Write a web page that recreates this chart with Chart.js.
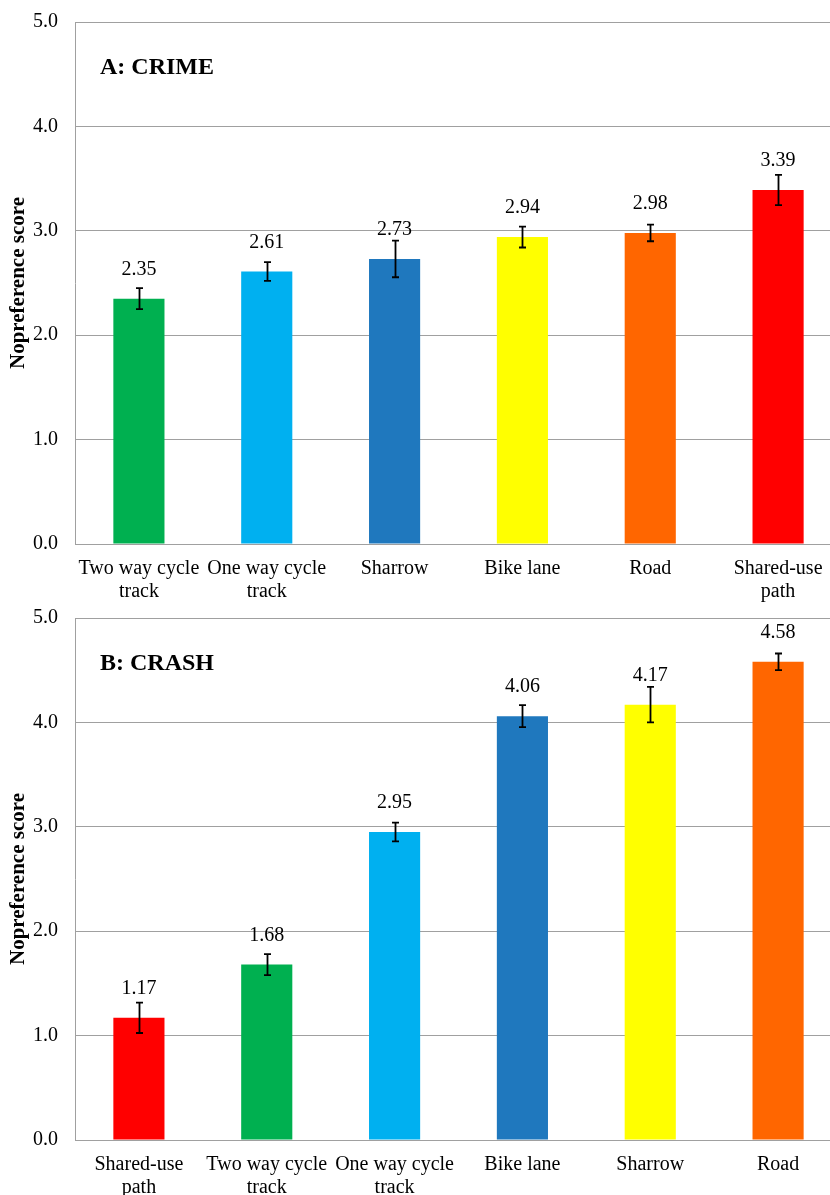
<!DOCTYPE html>
<html>
<head>
<meta charset="utf-8">
<script src="https://cdn.jsdelivr.net/npm/chart.js@4.4.1/dist/chart.umd.min.js"></script>
<style>
  html, body { margin: 0; padding: 0; background: #fff; width: 830px; height: 1195px; overflow: hidden; position: relative; }
  .box { position: absolute; left: 0; }
</style>
</head>
<body>
<div class="box" id="b1" style="top:0px;"><canvas id="c1" width="842" height="660"></canvas></div>
<div class="box" id="b2" style="top:600px;"><canvas id="c2" width="842" height="660"></canvas></div>
<script>
// ---- data ----
const crimeTitle = "A: CRIME";
const crimeCategories = [["Two way cycle", "track"], ["One way cycle", "track"], "Sharrow", "Bike lane", "Road", ["Shared-use", "path"]];
const crimeValues = [2.35, 2.61, 2.73, 2.94, 2.98, 3.39];
const crimeErrors = [0.10, 0.09, 0.175, 0.10, 0.08, 0.145];
const crimeColors = ["#00B050", "#00B0F0", "#1F78BE", "#FFFF00", "#FF6600", "#FF0000"];

const crashTitle = "B: CRASH";
const crashCategories = [["Shared-use", "path"], ["Two way cycle", "track"], ["One way cycle", "track"], "Bike lane", "Sharrow", "Road"];
const crashValues = [1.17, 1.68, 2.95, 4.06, 4.17, 4.58];
const crashErrors = [0.145, 0.10, 0.09, 0.105, 0.17, 0.08];
const crashColors = ["#FF0000", "#00B050", "#00B0F0", "#1F78BE", "#FFFF00", "#FF6600"];

const yMin = 0, yMax = 5, yStep = 1;
const yTitle = "Nopreference score";

// ---- rendering ----
Chart.defaults.font.family = "'Liberation Serif', 'Times New Roman', serif";
Chart.defaults.color = "#000";

const FONT = "'Liberation Serif', 'Times New Roman', serif";
const PLOT_H = 522;

const overlayPlugin = {
  id: 'overlay',
  afterDatasetsDraw(chart, args, opts) {
    const ctx = chart.ctx;
    const meta = chart.getDatasetMeta(0);
    const yScale = chart.scales.y;
    const vals = chart.data.datasets[0].data;
    const errs = opts.errors;
    ctx.save();
    ctx.strokeStyle = "#000";
    ctx.lineWidth = 1.8;
    meta.data.forEach((bar, i) => {
      const x = Math.round(bar.x) + 0.5;
      const yt = yScale.getPixelForValue(vals[i] + errs[i]);
      const yb = yScale.getPixelForValue(vals[i] - errs[i]);
      ctx.beginPath();
      ctx.moveTo(x, yt); ctx.lineTo(x, yb);
      ctx.moveTo(x - 3.5, yt); ctx.lineTo(x + 3.5, yt);
      ctx.moveTo(x - 3.5, yb); ctx.lineTo(x + 3.5, yb);
      ctx.stroke();
    });
    ctx.fillStyle = "#000";
    ctx.font = "20px " + FONT;
    ctx.textAlign = "center";
    ctx.textBaseline = "middle";
    meta.data.forEach((bar, i) => {
      ctx.fillText(vals[i].toFixed(2), bar.x, bar.y - 29);
    });
    ctx.font = "bold 24px " + FONT;
    ctx.textAlign = "left";
    ctx.fillText(opts.title, chart.chartArea.left + 25, chart.chartArea.top + 46);
    ctx.restore();
  }
};

function makeChart(id, cats, vals, errs, colors, title) {
  return new Chart(document.getElementById(id), {
    type: 'bar',
    data: {
      labels: cats,
      datasets: [{
        data: vals,
        backgroundColor: colors,
        borderWidth: 0,
        categoryPercentage: 1.0,
        barPercentage: 0.4
      }]
    },
    options: {
      responsive: false,
      animation: false,
      layout: { padding: { top: 0, left: 0, right: 0, bottom: 0 } },
      plugins: {
        legend: { display: false },
        tooltip: { enabled: false },
        overlay: { errors: errs, title: title }
      },
      scales: {
        x: {
          grid: { display: false, drawTicks: false },
          border: { display: true, color: "#A0A0A0", width: 1 },
          ticks: {
            font: { size: 20, lineHeight: 1.15 },
            padding: 13,
            maxRotation: 0,
            autoSkip: false
          },
          afterFit(scale) { scale.height = scale.chart.$xH || 100; }
        },
        y: {
          min: yMin, max: yMax,
          grid: { color: "#A0A0A0", lineWidth: 1, drawTicks: false },
          border: { display: true, color: "#A0A0A0", width: 1 },
          ticks: {
            stepSize: yStep,
            font: { size: 20 },
            padding: 17,
            callback: (v) => Number(v).toFixed(1)
          },
          title: {
            display: true,
            text: yTitle,
            font: { size: 21, weight: 'bold' },
            padding: { top: 6, bottom: 0 }
          },
          afterFit(scale) { scale.width = 75; }
        }
      }
    },
    plugins: [overlayPlugin]
  });
}

function place(chart, boxId, desiredTop) {
  const T = chart.chartArea.top;
  chart.$xH = chart.height - T - PLOT_H;
  chart.update();
  const T2 = chart.chartArea.top;
  document.getElementById(boxId).style.top = (desiredTop - T2) + 'px';
}

const ch1 = makeChart('c1', crimeCategories, crimeValues, crimeErrors, crimeColors, crimeTitle);
const ch2 = makeChart('c2', crashCategories, crashValues, crashErrors, crashColors, crashTitle);
place(ch1, 'b1', 22);
place(ch2, 'b2', 618);
</script>
</body>
</html>
